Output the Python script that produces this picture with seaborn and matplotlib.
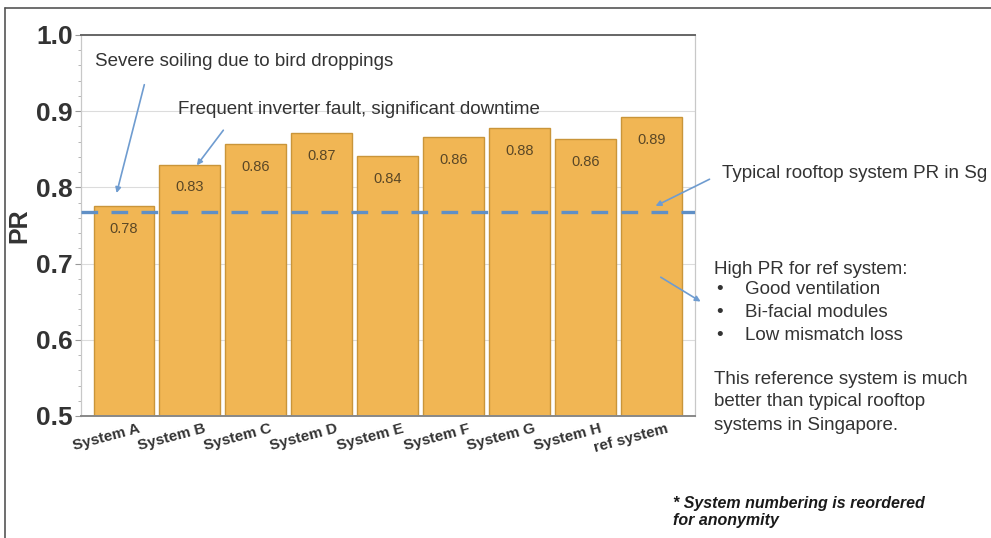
import numpy as np
import pandas as pd
import matplotlib.pyplot as plt
import matplotlib.lines as mlines
import matplotlib.transforms as mtrans
from matplotlib.ticker import MultipleLocator
import seaborn as sb

systems = ["System A", "System B", "System C", "System D", "System E",
           "System F", "System G", "System H", "ref system"]
pr = [0.775, 0.830, 0.857, 0.871, 0.841, 0.866, 0.878, 0.863, 0.892]
pr_labels = ["0.78", "0.83", "0.86", "0.87", "0.84", "0.86", "0.88", "0.86", "0.89"]
typical_pr = 0.768

sb.set_style("white")
plt.rcParams['font.family'] = ['Liberation Sans', 'DejaVu Sans']

df = pd.DataFrame({"system": systems, "PR": pr})

fig = plt.figure(figsize=(9.91, 5.38), dpi=100)
ax = fig.add_axes([0.0817, 0.2268, 0.6193, 0.7082])

# grid behind bars
ax.set_axisbelow(True)
ax.yaxis.grid(True, color="#dcdcdc", linewidth=0.8)

sb.barplot(data=df, x="system", y="PR", color="#F1B654", saturation=1,
           width=0.92, edgecolor="#C9953A", linewidth=1.0, ax=ax)

for i, (v, lab) in enumerate(zip(pr, pr_labels)):
	ax.text(i, v - 0.03, lab, ha="center", va="center", fontsize=10.5, color="#5a4726")

ax.axhline(typical_pr, color="#5f8fc6", linewidth=2.4, dashes=(5, 4), zorder=3)

ax.set_ylim(0.5, 1.0)
ax.set_xlim(-0.65, 8.65)
ax.yaxis.set_minor_locator(MultipleLocator(0.02))
ax.tick_params(axis="y", which="major", length=4, width=0.8, color="#999999",
               labelsize=19, pad=2, left=True)
ax.tick_params(axis="y", which="minor", length=2.5, width=0.6, color="#aaaaaa", left=True)
ax.tick_params(axis="x", length=0, pad=4)
ax.set_yticks(np.arange(0.5, 1.01, 0.1))
ax.set_yticklabels(["0.5", "0.6", "0.7", "0.8", "0.9", "1.0"], fontweight="bold", color="#333333")
ax.set_xticks(range(len(systems)))
ax.set_xticklabels(systems, rotation=15, ha="right", rotation_mode="anchor",
                   fontsize=11, fontweight="bold", color="#333333")
ax.set_xlabel("")
ax.set_ylabel("PR", fontsize=18, fontweight="bold", color="#333333", labelpad=3)

for side in ["left", "right"]:
	ax.spines[side].set_color("#c8c8c8")
	ax.spines[side].set_linewidth(0.9)
ax.spines["top"].set_color("#666666")
ax.spines["top"].set_linewidth(1.4)
ax.spines["bottom"].set_color("#888888")
ax.spines["bottom"].set_linewidth(1.4)

# shift x tick labels a bit right so they end just past the bar centre
offset = mtrans.ScaledTranslation(0.14, 0.0, fig.dpi_scale_trans)
for t in ax.get_xticklabels():
	t.set_transform(t.get_transform() + offset)

arrow = dict(arrowstyle="-|>", color="#6f9cd0", lw=1.2, mutation_scale=8)
txt = dict(fontsize=13.5, color="#333333")

fig.text(95 / 991, 476 / 538, "Severe soiling due to bird droppings", va="center", **txt)
ax.annotate("", xy=(-0.12, 0.789), xytext=(145, 456), textcoords="figure pixels", arrowprops=arrow)

fig.text(178 / 991, 428 / 538, "Frequent inverter fault, significant downtime", va="center", **txt)
ax.annotate("", xy=(1.08, 0.826), xytext=(225, 410), textcoords="figure pixels", arrowprops=arrow)

ax.annotate("", xy=(8.02, 0.774), xytext=(712, 360), textcoords="figure pixels",
            arrowprops=arrow, annotation_clip=False)
fig.text(722 / 991, 364 / 538, "Typical rooftop system PR in Sg", va="center", **txt)

ax.annotate("", xy=(703, 235), xycoords="figure pixels", xytext=(8.1, 0.684),
            textcoords="data", arrowprops=arrow, annotation_clip=False)

fig.text(714 / 991, 268 / 538, "High PR for ref system:", va="center", **txt)
for k, item in enumerate(["Good ventilation", "Bi-facial modules", "Low mismatch loss"]):
	y = (248 - 22.5 * k) / 538
	fig.text(716 / 991, y, "\u2022", va="center", **txt)
	fig.text(745 / 991, y, item, va="center", **txt)

for k, line in enumerate(["This reference system is much", "better than typical rooftop",
                          "systems in Singapore."]):
	fig.text(714 / 991, (159 - 23 * k) / 538, line, va="center", **txt)

fig.text(673 / 991, 26 / 538, "* System numbering is reordered\nfor anonymity",
         va="center", fontsize=11.5, fontweight="bold", fontstyle="italic",
         color="#1a1a1a", linespacing=1.1)

# outer frame of the figure
fig.add_artist(mlines.Line2D([5 / 991, 5 / 991], [0, 530 / 538], color="#555555", lw=1.2))
fig.add_artist(mlines.Line2D([5 / 991, 1], [530 / 538, 530 / 538], color="#555555", lw=1.2))

plt.savefig("out.png", dpi=100)
